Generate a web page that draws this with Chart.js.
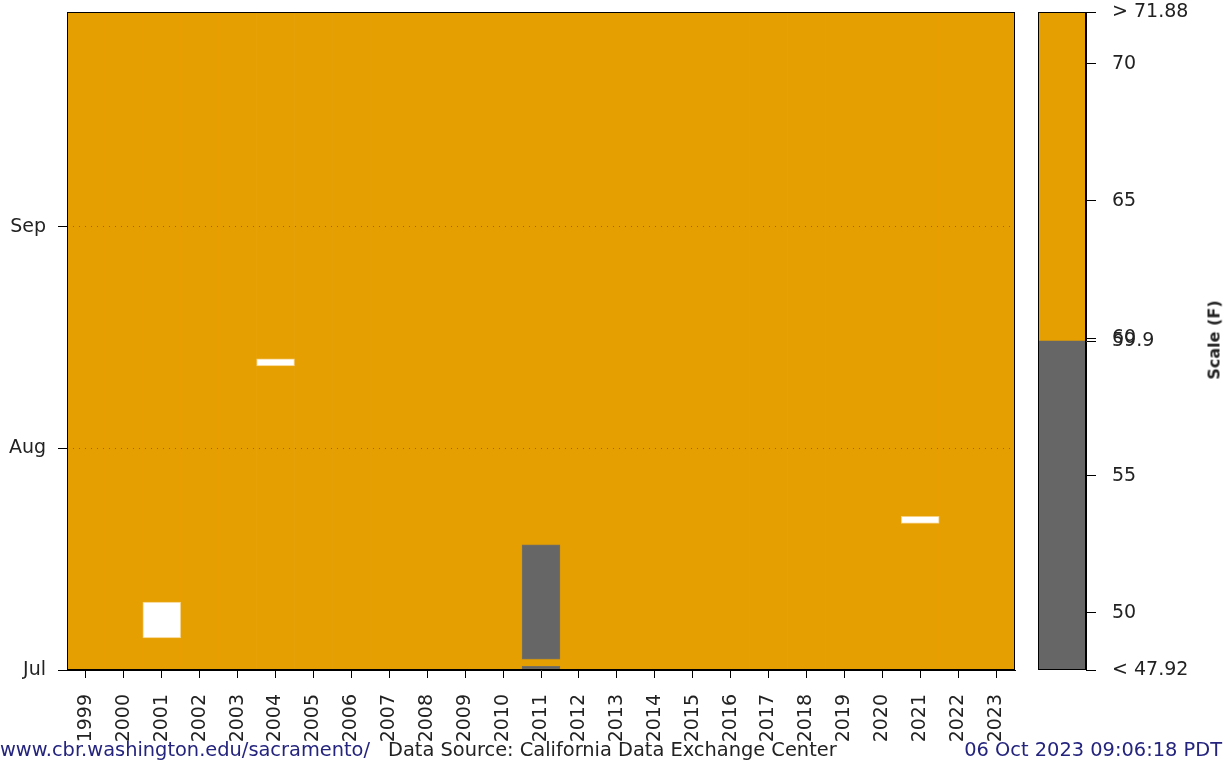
<!DOCTYPE html>
<html>
<head>
<meta charset="utf-8">
<script src="https://cdn.jsdelivr.net/npm/chart.js@4"></script>
<style>
  body { margin: 0; background: #fff; width: 1231px; height: 764px; overflow: hidden; position: relative; font-family: "DejaVu Sans", sans-serif; }
  #main { position: absolute; left: 0; top: 0; }
  #scale { position: absolute; left: 1030px; top: 0; }
  #scaleTitle { position: absolute; left: 1214px; top: 340px; transform: translate(-50%, -50%) rotate(-90deg); font-weight: bold; font-size: 16px; color: #222; white-space: nowrap; }
  .foot { position: absolute; top: 738px; font-size: 19.4px; white-space: nowrap; }
</style>
</head>
<body>
<canvas id="main" width="1030" height="745"></canvas>
<canvas id="scale" width="201" height="745"></canvas>
<div id="scaleTitle">Scale (F)</div>
<div class="foot" style="left:0; color:#24247e;">www.cbr.washington.edu/sacramento/</div>
<div class="foot" style="left:388px; color:#222;">Data Source: California Data Exchange Center</div>
<div class="foot" style="right:9px; color:#24247e;">06 Oct 2023 09:06:18 PDT</div>
<script>
// years on the x axis
const years = [1999, 2000, 2001, 2002, 2003, 2004, 2005, 2006, 2007, 2008, 2009, 2010, 2011,
               2012, 2013, 2014, 2015, 2016, 2017, 2018, 2019, 2020, 2021, 2022, 2023];

// day of season (0 = Jul 1), season runs to Oct 1
const seasonDays = 92;
const monthTicks = [0, 31, 62];
const monthLabels = ["Jul", "Aug", "Sep"];

// days with no data (white)
const missingYears = [2001, 2004, 2021];
const missingFrom = [5, 43, 21];
const missingTo = [9, 43, 21];

// days below the 59.9 F threshold (gray)
const belowYears = [2011, 2011];
const belowFrom = [0, 2];
const belowTo = [0, 17];

// colour scale
const scaleMin = 47.92;
const scaleMax = 71.88;
const threshold = 59.9;
const scaleTicks = [50, 55, 60, 65, 70];

const orange = "#e69f00";
const gray = "#666666";

//turn day ranges into floating bars, each day cell is centred on its day number
function cells(yrs, from, to) {
    const out = [];
    for (let i = 0; i < yrs.length; i++) {
        out.push({ x: String(yrs[i]), y: [Math.max(0, from[i] - 0.5), Math.min(seasonDays, to[i] + 0.5)] });
    }
    return out;
}

//no extra room for labels that hang over the ends of an axis
function noOverhang(s) {
    s.paddingTop = 0;
    s.paddingBottom = 0;
    s.paddingLeft = 0;
    s.paddingRight = 0;
}

const frame = {
    id: "frame",
    afterDraw(chart) {
        const a = chart.chartArea;
        const ctx = chart.ctx;
        ctx.save();
        ctx.strokeStyle = "#000";
        ctx.lineWidth = 1;
        ctx.strokeRect(a.left + 0.5, a.top + 0.5, a.right - a.left - 1, a.bottom - a.top - 1);
        ctx.restore();
    }
};

const tickFont = { family: "DejaVu Sans", size: 19 };

new Chart(document.getElementById("main"), {
    type: "bar",
    data: {
        labels: years.map(String),
        datasets: [{
            label: "missing",
            data: cells(missingYears, missingFrom, missingTo),
            backgroundColor: "#ffffff",
            borderColor: "#f6cf80",
            borderWidth: 1,
            order: 0
        }, {
            label: "below",
            data: cells(belowYears, belowFrom, belowTo),
            backgroundColor: gray,
            borderColor: "#77705f",
            borderWidth: 1,
            order: 1
        }, {
            label: "above",
            data: years.map(y => ({ x: String(y), y: [0, seasonDays] })),
            backgroundColor: orange,
            borderWidth: 0,
            order: 2
        }]
    },
    options: {
        responsive: false,
        animation: false,
        layout: { padding: { top: 12, right: 15, left: 0, bottom: 0 } },
        datasets: { bar: { grouped: false, barPercentage: 1, categoryPercentage: 1, borderSkipped: false } },
        plugins: { legend: { display: false }, tooltip: { enabled: false } },
        scales: {
            x: {
                afterFit: s => { s.height = 75; noOverhang(s); },
                grid: { drawOnChartArea: false, offset: false, color: "#000", tickLength: 8 },
                border: { color: "#000" },
                ticks: { color: "#222", font: tickFont, maxRotation: 90, minRotation: 90, autoSkip: false, padding: 16 }
            },
            y: {
                min: 0,
                max: seasonDays,
                afterFit: s => { s.width = 67; noOverhang(s); },
                afterBuildTicks: s => { s.ticks = monthTicks.map(v => ({ value: v })); },
                grid: {
                    z: 1,
                    color: c => (c.tick && c.tick.value === 0) ? "rgba(0,0,0,0)" : "rgba(150,95,0,0.9)",
                    tickColor: "#000",
                    tickLength: 9
                },
                border: { display: false, dash: [1, 5] },
                ticks: {
                    color: "#222",
                    font: tickFont,
                    padding: 12,
                    callback: v => monthLabels[monthTicks.indexOf(v)]
                }
            }
        }
    },
    plugins: [frame]
});

new Chart(document.getElementById("scale"), {
    type: "bar",
    data: {
        labels: ["scale"],
        datasets: [{
            data: [[scaleMin, threshold]],
            backgroundColor: gray
        }, {
            data: [[threshold, scaleMax]],
            backgroundColor: orange
        }]
    },
    options: {
        responsive: false,
        animation: false,
        layout: { padding: { top: 12, right: 0, left: 8, bottom: 75 } },
        datasets: { bar: { grouped: false, barPercentage: 1, categoryPercentage: 1, borderWidth: 0 } },
        plugins: { legend: { display: false }, tooltip: { enabled: false } },
        scales: {
            x: { display: false },
            y: {
                position: "right",
                min: scaleMin,
                max: scaleMax,
                afterFit: s => { s.width = 145; noOverhang(s); },
                afterBuildTicks: s => {
                    s.ticks = [scaleMin].concat(scaleTicks.slice(0, 2), [threshold], scaleTicks.slice(2), [scaleMax]).map(v => ({ value: v }));
                },
                grid: { drawOnChartArea: false, color: "#000", tickLength: 10 },
                border: { color: "#000" },
                ticks: {
                    color: "#222",
                    font: tickFont,
                    padding: 16,
                    autoSkip: false,
                    callback: v => v === scaleMax ? "> " + scaleMax : v === scaleMin ? "< " + scaleMin : String(v)
                }
            }
        }
    },
    plugins: [frame]
});
</script>
</body>
</html>
